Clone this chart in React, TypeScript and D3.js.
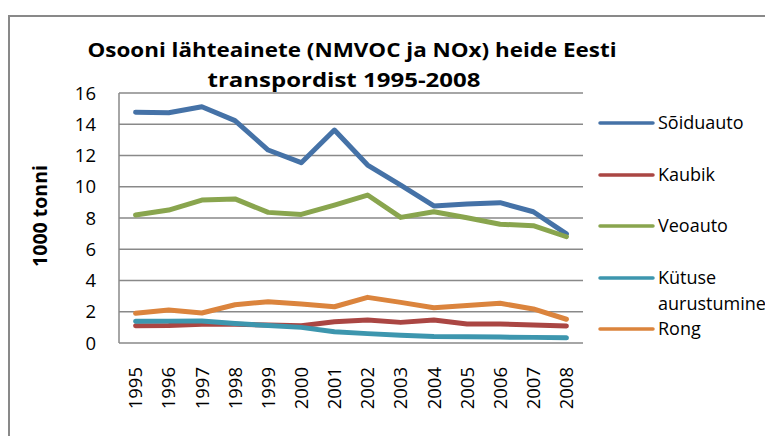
import React from "react";
import * as d3 from "d3";

const years = ["1995","1996","1997","1998","1999","2000","2001","2002","2003","2004","2005","2006","2007","2008"];
const soiduauto = [14.77, 14.74, 15.12, 14.23, 12.35, 11.54, 13.63, 11.39, 10.11, 8.77, 8.9, 8.98, 8.4, 6.98];
const kaubik = [1.1, 1.12, 1.2, 1.2, 1.15, 1.1, 1.36, 1.47, 1.32, 1.47, 1.22, 1.22, 1.15, 1.09];
const veoauto = [8.19, 8.51, 9.15, 9.22, 8.36, 8.23, 8.83, 9.47, 8.04, 8.4, 8.02, 7.6, 7.51, 6.8];
const kytuse = [1.39, 1.4, 1.41, 1.25, 1.12, 1.0, 0.72, 0.6, 0.5, 0.42, 0.4, 0.38, 0.36, 0.33];
const rong = [1.9, 2.11, 1.92, 2.45, 2.64, 2.5, 2.32, 2.92, 2.6, 2.26, 2.4, 2.54, 2.18, 1.52];
const yTicks = [0, 2, 4, 6, 8, 10, 12, 14, 16];

const seriesNames = ["Sõiduauto", "Kaubik", "Veoauto", "Kütuse aurustumine", "Rong"];
const seriesColors = ["#4572A7", "#AA4643", "#89A54E", "#3D96AE", "#DB843D"];
const seriesValues = [soiduauto, kaubik, veoauto, kytuse, rong];

const FONT = "'Open Sans', 'Noto Sans', sans-serif";

export default function App() {
  const left = 119, right = 583, top = 93, bottom = 343;
  const x = d3.scaleBand<string>().domain(years).range([left, right]);
  const y = d3.scaleLinear().domain([0, 16]).range([bottom, top]);
  const line = d3
    .line<number>()
    .x((_, i) => (x(years[i]) as number) + x.bandwidth() / 2)
    .y((d) => y(d));

  const legendY = [123, 175, 226, 278, 329];

  return (
    <svg width={765} height={436} style={{ position: "absolute", left: 0, top: 0 }} fontFamily={FONT}>
      <rect x={0} y={0} width={765} height={436} fill="white" />
      <rect x={9} y={16} width={800} height={500} fill="white" stroke="#898989" strokeWidth={2} />
      <text x={352} y={57} textAnchor="middle" fontSize={19.6} fontWeight="bold" fill="#000" textLength={529} lengthAdjust="spacingAndGlyphs">
        Osooni lähteainete (NMVOC ja NOx) heide Eesti
      </text>
      <text x={344} y={87} textAnchor="middle" fontSize={19.6} fontWeight="bold" fill="#000" textLength={273} lengthAdjust="spacingAndGlyphs">
        transpordist 1995-2008
      </text>
      {yTicks.map((t) => (
        <g key={t}>
          <line x1={left} x2={right} y1={y(t)} y2={y(t)} stroke="#898989" strokeWidth={1.5} />
          <text x={96} y={y(t) + 6.5} textAnchor="end" fontSize={18.5} fill="#000">
            {t}
          </text>
        </g>
      ))}
      <line x1={left} x2={left} y1={top} y2={bottom} stroke="#898989" strokeWidth={1.5} />
      {years.map((yr) => {
        const cx = (x(yr) as number) + x.bandwidth() / 2;
        return (
          <text key={yr} transform={`translate(${cx + 6.7},367) rotate(-90)`} textAnchor="end" fontSize={18.5} fill="#000">
            {yr}
          </text>
        );
      })}
      <text transform="translate(47,216) rotate(-90)" textAnchor="middle" fontSize={19.5} fontWeight="bold" fill="#000">
        1000 tonni
      </text>
      {seriesValues.map((vals, i) => (
        <path key={i} d={line(vals) || ""} fill="none" stroke={seriesColors[i]} strokeWidth={5} strokeLinejoin="round" strokeLinecap="round" />
      ))}
      {seriesNames.map((name, i) => (
        <g key={name}>
          <line x1={600} x2={653} y1={legendY[i]} y2={legendY[i]} stroke={seriesColors[i]} strokeWidth={3.5} strokeLinecap="round" />
          {name === "Kütuse aurustumine" ? (
            <text x={658} y={legendY[i] + 6.4} fontSize={18} fill="#000">
              <tspan x={658}>Kütuse</tspan>
              <tspan x={658} dy={26}>aurustumine</tspan>
            </text>
          ) : (
            <text x={658} y={legendY[i] + 6.4} fontSize={18} fill="#000">
              {name}
            </text>
          )}
        </g>
      ))}
    </svg>
  );
}
